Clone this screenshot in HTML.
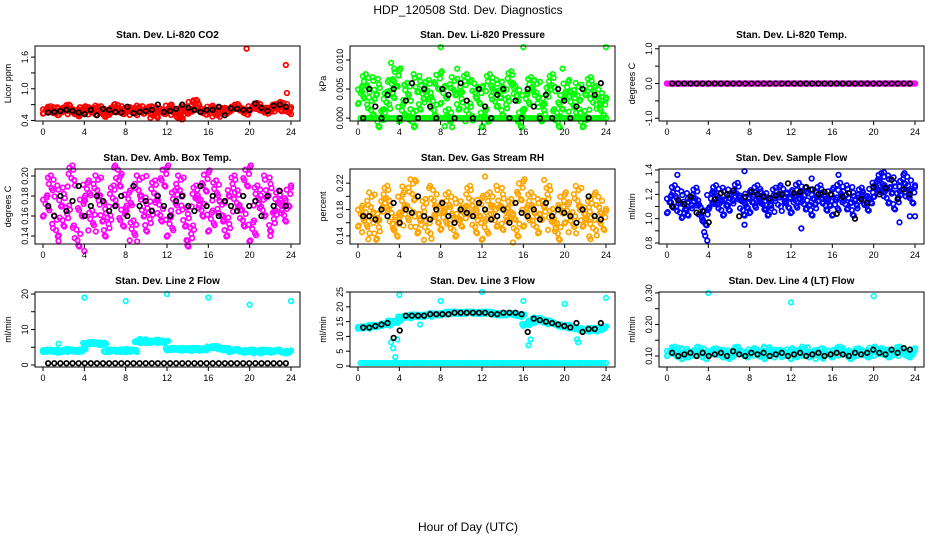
<!DOCTYPE html>
<html><head><meta charset="utf-8"><style>
body{margin:0;background:#fff;}
svg{display:block;font-family:"Liberation Sans",sans-serif;}
</style></head><body>
<svg id="c" width="936" height="540" viewBox="0 0 936 540">
<text x="468" y="14" text-anchor="middle" font-size="12">HDP_120508 Std. Dev. Diagnostics</text>
<text x="468" y="531" text-anchor="middle" font-size="12">Hour of Day (UTC)</text>
</svg>
<script>
const xTicks=[0,4,8,12,16,20,24];
const p1Col=[0.58,0.62,0.55,0.6,0.65,0.57,0.53,0.62,0.6,0.56,0.63,0.58,0.52,0.6,0.66,0.57,0.6,0.55,0.63,0.58,0.62,0.5,0.6,0.57,0.65,0.55,0.47,0.62,0.58,0.74,0.6,0.56,0.63,0.52,0.6,0.58,0.62,0.66,0.6,0.56,0.64,0.68,0.6,0.58,0.66,0.62,0.7,0.6];
const p1Blk=[0.55,0.56,0.58,0.6,0.58,0.55,0.52,0.6,0.5,0.62,0.6,0.56,0.55,0.66,0.54,0.56,0.58,0.6,0.7,0.56,0.58,0.62,0.7,0.64,0.6,0.56,0.6,0.6,0.66,0.5,0.63,0.62,0.6,0.6,0.72,0.64,0.58,0.68,0.7,0.66];
const p1OutH=[19.7,23.5,23.6,24,14.1,13.3];
const p1OutV=[1.76,1.45,0.92,0.52,0.75,0.45];
const p2Col=[0.004,0.006,0.002,0.0055,0.0,0.003,0.005,0.007,0.001,0.0045,0.0,0.006,0.003,0.005,0.002,0.0065,0.004,0.0,0.0055,0.003,0.006,0.001,0.005,0.004,0.0,0.006,0.0035,0.005,0.002,0.0065,0.0045,0.0,0.003,0.0055,0.005,0.001,0.004,0.006,0.0,0.003,0.005,0.0025,0.0045,0.0,0.0055,0.003,0.004,0.002];
const p2Base=[0,0,0,0,0,0,0,0,0,0,0,0,0,0,0,0,0,0,0,0,0,0,0,0,0,0,0,0,0,0,0,0,0,0,0,0,0,0,0,0,0,0,0,0,0,0,0,0];
const p2Blk=[0,0.005,0.002,0,0.004,0.005,0,0.003,0.006,0,0.005,0.002,0.0,0.005,0.004,0,0.006,0.003,0,0.005,0.002,0,0.004,0.005,0,0.003,0,0.005,0.002,0,0.004,0,0.005,0.003,0,0.002,0.005,0,0.004,0.006];
const p2OutH=[3.2,3.5,8,16,24,19.8,9.6];
const p2OutV=[0.0095,0.0085,0.0122,0.0122,0.0122,0.0085,0.0085];
const p3Col=[0,0,0,0,0,0,0,0,0,0,0,0,0,0,0,0,0,0,0,0,0,0,0,0,0,0,0,0,0,0,0,0,0,0,0,0,0,0,0,0,0,0,0,0,0,0,0,0];
const p3Blk=[0,0,0,0,0,0,0,0,0,0,0,0,0,0,0,0,0,0,0,0,0,0,0,0,0,0,0,0,0,0,0,0,0,0,0,0,0,0,0,0];
const p4Col=[0.17,0.19,0.15,0.18,0.16,0.2,0.14,0.17,0.185,0.155,0.19,0.165,0.15,0.18,0.2,0.16,0.175,0.145,0.19,0.17,0.155,0.185,0.165,0.2,0.15,0.175,0.19,0.16,0.14,0.18,0.17,0.195,0.155,0.185,0.165,0.15,0.19,0.175,0.16,0.2,0.145,0.18,0.17,0.19,0.155,0.175,0.165,0.18];
const p4Blk=[0.17,0.16,0.18,0.165,0.175,0.19,0.16,0.17,0.18,0.175,0.165,0.17,0.18,0.16,0.19,0.17,0.175,0.165,0.18,0.17,0.16,0.175,0.18,0.17,0.165,0.19,0.17,0.18,0.16,0.175,0.17,0.165,0.18,0.17,0.175,0.16,0.18,0.17,0.185,0.17];
const p4OutH=[1.5,4,7.5,10,14,22];
const p4OutV=[0.135,0.125,0.2,0.2,0.135,0.14];
const p5Col=[0.17,0.16,0.19,0.15,0.18,0.2,0.165,0.155,0.19,0.17,0.21,0.16,0.18,0.15,0.2,0.175,0.165,0.19,0.155,0.18,0.17,0.2,0.16,0.185,0.15,0.19,0.17,0.2,0.165,0.18,0.155,0.21,0.17,0.19,0.16,0.18,0.2,0.165,0.15,0.19,0.175,0.16,0.2,0.17,0.18,0.155,0.19,0.165];
const p5Blk=[0.17,0.17,0.165,0.18,0.17,0.19,0.16,0.18,0.175,0.2,0.17,0.165,0.18,0.19,0.17,0.16,0.18,0.175,0.17,0.19,0.18,0.165,0.17,0.18,0.16,0.19,0.175,0.17,0.18,0.165,0.19,0.17,0.18,0.175,0.17,0.16,0.18,0.2,0.17,0.165];
const p5OutH=[1,5.5,12.3,15,18,22.5,4.3];
const p5OutV=[0.135,0.225,0.23,0.13,0.225,0.135,0.215];
const p6Col=[1.12,1.2,1.08,1.15,1.1,1.18,1.05,1.02,1.15,1.2,1.1,1.18,1.14,1.22,1.1,1.16,1.12,1.2,1.15,1.1,1.18,1.13,1.2,1.16,1.12,1.22,1.15,1.18,1.1,1.2,1.14,1.18,1.1,1.22,1.15,1.2,1.1,1.18,1.14,1.2,1.25,1.3,1.2,1.28,1.15,1.25,1.3,1.2];
const p6Blk=[1.1,1.15,1.12,1.18,1.05,1.06,0.97,1.16,1.21,1.2,1.23,1.02,1.18,1.22,1.2,1.18,1.17,1.19,1.2,1.29,1.21,1.22,1.26,1.24,1.2,1.22,1.2,1.04,1.18,1.21,1.0,1.16,1.13,1.26,1.2,1.25,1.32,1.16,1.24,1.2];
const p6OutH=[1,3.6,3.7,3.9,7.5,13,14,21,22.5,23.5,24,16.6,7.5];
const p6OutV=[1.36,0.89,0.86,0.82,1.39,0.92,1.33,1.38,0.97,1.02,1.02,1.36,0.95];
const p7Col=[4,4,3.8,4,4.2,4,4,4.2,6,6.2,6,6,4,4,4,4.2,4,4,6.5,7,6.5,6.5,6.8,6.5,4.5,4.5,4.4,4.5,4.5,4.3,4.5,4.5,5,5,4.5,4.5,4,4.2,3.8,4,4,3.6,4,4,3.8,4,3.6,3.8];
const p7Blk=[0.5,0.5,0.5,0.5,0.5,0.5,0.5,0.5,0.5,0.5,0.5,0.5,0.5,0.5,0.5,0.5,0.5,0.5,0.5,0.5,0.5,0.5,0.5,0.5,0.5,0.5,0.5,0.5,0.5,0.5,0.5,0.5,0.5,0.5,0.5,0.5,0.5,0.5,0.5,0.5];
const p7OutH=[4,8,12,16,20,24,1.5];
const p7OutV=[19,18,20,19,17,18,6];
const p8Col=[13,13,13.5,13.5,14,14,15,15,16.5,16.5,17,17,17,17,17.5,17.5,17.5,18,18,18,18,18,18,18,18,18,17.5,17.5,17.5,17.5,17.5,17,14,15,16,15.5,15,14.5,14,13.5,13.5,13,12.5,12,12.5,12,12.5,13];
const p8Base=[1,1,1,1,1,1,1,1,1,1,1,1,1,1,1,1,1,1,1,1,1,1,1,1,1,1,1,1,1,1,1,1,1,1,1,1,1,1,1,1,1,1,1,1,1,1,1,1];
const p8Blk=[13,13,13.5,14,14.5,9.5,12,17,17,17,17,17.5,17.5,17.5,17.5,18,18,18,18,18,18,17.5,17.5,18,18,18,17.5,11.5,16,15.5,15,14.5,14,13.5,13,14.5,11.5,12.5,12.5,14.5];
const p8OutH=[3.2,3.4,3.6,3.8,4,8,12,16,20,24,16.5,16.7,6,21.3,21.2];
const p8OutV=[8,6,3,9,24,22,25,22,21,23,7,9,14,8,9];
const p9Col=[0.11,0.12,0.1,0.115,0.105,0.11,0.12,0.1,0.11,0.115,0.105,0.11,0.1,0.12,0.11,0.105,0.115,0.11,0.1,0.12,0.11,0.105,0.11,0.115,0.1,0.11,0.12,0.105,0.11,0.1,0.115,0.11,0.105,0.12,0.11,0.1,0.115,0.11,0.105,0.12,0.11,0.115,0.105,0.11,0.12,0.11,0.105,0.115];
const p9Blk=[0.11,0.1,0.105,0.11,0.1,0.11,0.1,0.105,0.11,0.1,0.115,0.105,0.1,0.11,0.105,0.11,0.1,0.105,0.11,0.1,0.105,0.11,0.1,0.105,0.11,0.1,0.105,0.11,0.105,0.1,0.11,0.105,0.11,0.12,0.11,0.105,0.12,0.11,0.125,0.12];
const p9OutH=[4,12,20];
const p9OutV=[0.3,0.27,0.29];
const p1Ticks=[0.4,0.7,1.0,1.3,1.6],p1Lab=["0.4","","1.0","","1.6"];
const p2Ticks=[0,0.005,0.01],p2Lab=["0.000","0.005","0.010"];
const p3Ticks=[-1,-0.5,0,0.5,1],p3Lab=["-1.0","","0.0","","1.0"];
const p4Ticks=[0.14,0.16,0.18,0.2],p4Lab=["0.14","0.16","0.18","0.20"];
const p5Ticks=[0.14,0.16,0.18,0.2,0.22],p5Lab=["0.14","","0.18","","0.22"];
const p6Ticks=[0.8,0.9,1.0,1.1,1.2,1.3,1.4],p6Lab=["0.8","","1.0","","1.2","","1.4"];
const p7Ticks=[0,5,10,15,20],p7Lab=["0","","10","","20"];
const p8Ticks=[0,5,10,15,20,25],p8Lab=["0","5","10","15","20","25"];
const p9Ticks=[0.1,0.15,0.2,0.25,0.3],p9Lab=["0.10","","0.20","","0.30"];

const NS="http://www.w3.org/2000/svg";
const svg=document.getElementById('c');
function mk(t,a,p){const e=document.createElementNS(NS,t);for(const k in a)e.setAttribute(k,a[k]);(p||svg).appendChild(e);return e;}
const panels=[
 {t:"Stan. Dev. Li-820 CO2",yl:"Licor ppm",c:"#ff0000",sp:0.035,col:p1Col,blk:p1Blk,oh:p1OutH,ov:p1OutV,yt:p1Ticks,lab:p1Lab,y0:0.39,y1:1.81,L:35,T:46},
 {t:"Stan. Dev. Li-820 Pressure",yl:"kPa",c:"#00ff00",sp:0.12,col:p2Col,base:p2Base,blk:p2Blk,oh:p2OutH,ov:p2OutV,yt:p2Ticks,lab:p2Lab,y0:-0.0005,y1:0.0124,L:350,T:46},
 {t:"Stan. Dev. Li-820 Temp.",yl:"degrees C",c:"#ff00ff",sp:0,col:p3Col,blk:p3Blk,oh:[],ov:[],yt:p3Ticks,lab:p3Lab,y0:-1.08,y1:1.08,L:659,T:46},
 {t:"Stan. Dev. Amb. Box Temp.",yl:"degrees C",c:"#ff00ff",sp:0.14,col:p4Col,blk:p4Blk,oh:p4OutH,ov:p4OutV,yt:p4Ticks,lab:p4Lab,y0:0.132,y1:0.207,L:35,T:169},
 {t:"Stan. Dev. Gas Stream RH",yl:"percent",c:"#ffa500",sp:0.14,col:p5Col,blk:p5Blk,oh:p5OutH,ov:p5OutV,yt:p5Ticks,lab:p5Lab,y0:0.1277,y1:0.2415,L:350,T:169},
 {t:"Stan. Dev. Sample Flow",yl:"ml/min",c:"#0000ff",sp:0.12,col:p6Col,blk:p6Blk,oh:p6OutH,ov:p6OutV,yt:p6Ticks,lab:p6Lab,y0:0.792,y1:1.408,L:659,T:169},
 {t:"Stan. Dev. Line 2 Flow",yl:"ml/min",c:"#00ffff",sp:0.015,col:p7Col,blk:p7Blk,oh:p7OutH,ov:p7OutV,yt:p7Ticks,lab:p7Lab,y0:-0.56,y1:20.56,L:35,T:292},
 {t:"Stan. Dev. Line 3 Flow",yl:"ml/min",c:"#00ffff",sp:0.015,col:p8Col,base:p8Base,blk:p8Blk,oh:p8OutH,ov:p8OutV,yt:p8Ticks,lab:p8Lab,y0:-0.34,y1:25,L:350,T:292},
 {t:"Stan. Dev. Line 4 (LT) Flow",yl:"ml/min",c:"#00ffff",sp:0.04,col:p9Col,blk:p9Blk,oh:p9OutH,ov:p9OutV,yt:p9Ticks,lab:p9Lab,y0:0.065,y1:0.303,L:659,T:292}
];
const W=265,H=75;
const jx=[-0.36,-0.18,0,0.18,0.36,-0.27,0.09,0.27];
const jy=[0.6,-0.9,0.2,1,-0.4,-1,0.8,-0.2];
panels.forEach((p,i)=>{
 const g=mk('g',{});
 
 
 const xs=h=>p.L+8+h*(248/24);
 const ys=v=>p.T+H-(v-p.y0)/(p.y1-p.y0)*H;
 const tt=mk('text',{x:p.L+W/2,y:p.T-8,'text-anchor':'middle','font-size':10,'font-weight':'bold'},g);
 tt.textContent=p.t;
 
 
 const pts=mk('g',{fill:'none','stroke-width':1.7},g);
 
 
 const dot=(h,v,c)=>{const e=mk('circle',{cx:xs(h),cy:ys(v),r:2.3,stroke:c},pts);
  
  };
 const n=p.col.length;
 const rng=(p.y1-p.y0)*p.sp;
 p.col.forEach((v,k)=>{const h=0.25+k*(23.5/(n-1));
  for(let j=0;j<8;j++){dot(Math.max(0,Math.min(24,h+jx[j])),v+rng*jy[(j+k)%8],p.c);}});
 if(p.base)p.base.forEach((v,k)=>{const h=0.25+k*(23.5/(n-1));dot(h,v,p.c);dot(h+0.25,v,p.c);});
 p.oh.forEach((h,k)=>dot(h,p.ov[k],p.c));
 const m=p.blk.length;
 p.blk.forEach((v,k)=>dot(0.5+k*(23/(m-1)),v,'#000'));
 const box=mk('rect',{x:p.L,y:p.T,width:W,height:H,fill:'none',stroke:'#000','stroke-width':1},g);
 
 
 const ax=mk('g',{stroke:'#000','stroke-width':1},g);
 
 
 mk('line',{x1:xs(0),x2:xs(24),y1:p.T+H,y2:p.T+H},ax);
 xTicks.forEach(h=>{mk('line',{x1:xs(h),x2:xs(h),y1:p.T+H,y2:p.T+H+4},ax);
  const t=mk('text',{x:xs(h),y:p.T+H+14,'text-anchor':'middle','font-size':9,stroke:'none'},ax);t.textContent=h;
  
  });
 const ay=mk('g',{stroke:'#000','stroke-width':1},g);
 
 
 mk('line',{x1:p.L,x2:p.L,y1:ys(p.yt[0]),y2:ys(p.yt[p.yt.length-1])},ay);
 p.yt.forEach((v,k)=>{const y=ys(v);mk('line',{x1:p.L-4,x2:p.L,y1:y,y2:y},ay);
  if(p.lab[k]){const t=mk('text',{x:p.L-7,y:y,'text-anchor':'middle','font-size':9,stroke:'none',transform:`rotate(-90 ${p.L-7} ${y})`},ay);t.textContent=p.lab[k];
  
  }});
 const yl=mk('text',{x:p.L-24,y:p.T+H/2,'text-anchor':'middle','font-size':9,transform:`rotate(-90 ${p.L-24} ${p.T+H/2})`},g);
 yl.textContent=p.yl;
 
 
});
</script>
</body></html>
